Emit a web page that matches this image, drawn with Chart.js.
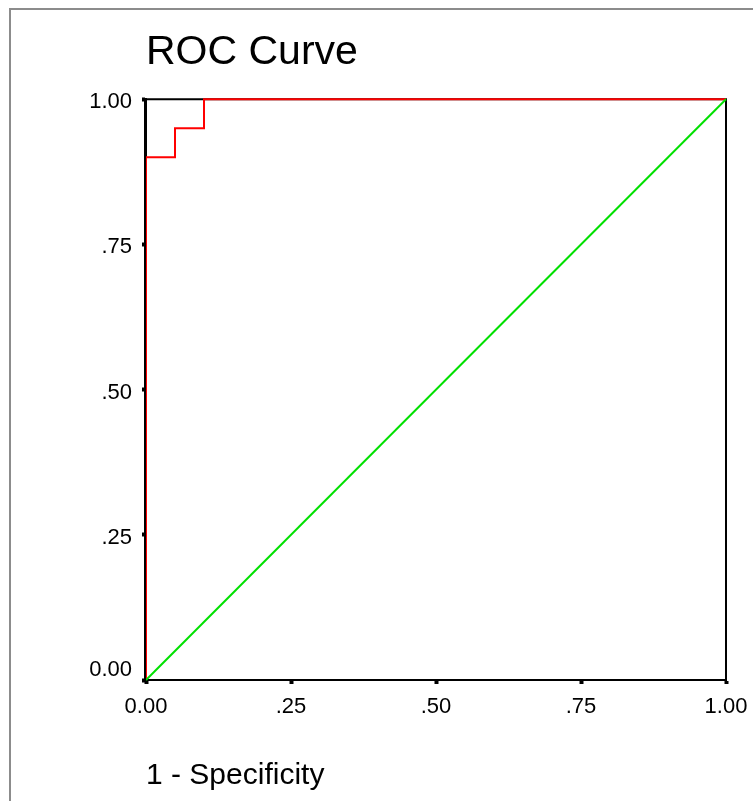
<!DOCTYPE html>
<html>
<head>
<meta charset="utf-8">
<script src="https://cdn.jsdelivr.net/npm/chart.js@4/dist/chart.umd.min.js"></script>
<style>
    body { margin: 0; background: #fff; }
    #wrap { position: relative; width: 753px; height: 801px; overflow: hidden; }
    #frame { position: absolute; left: 9px; top: 8px; width: 900px; height: 900px; border: 2px solid #8c8c8c; }
    #chart { position: absolute; left: 0; top: 0; }
</style>
</head>
<body>
<div id="wrap">
    <div id="frame"></div>
    <canvas id="chart" width="753" height="801"></canvas>
</div>
<script>
// ROC curve points (1 - specificity, sensitivity)
const rocX = [0, 0, 0.05, 0.05, 0.10, 0.10, 1];
const rocY = [0, 0.90, 0.90, 0.95, 0.95, 1, 1];

// Reference diagonal
const refX = [0, 1];
const refY = [0, 1];

// Tick labels as printed on the axes
const tickValues = [0, 0.25, 0.5, 0.75, 1];
const tickLabels = ['0.00', '.25', '.50', '.75', '1.00'];

const FONT = '"Liberation Sans", Arial, sans-serif';
const TICK_FONT = { family: FONT, size: 22 };

function toPoints(xs, ys) {
    return xs.map((x, i) => ({ x: x, y: ys[i] }));
}

function tickLabel(value) {
    const i = tickValues.findIndex(v => Math.abs(v - value) < 1e-6);
    return i >= 0 ? tickLabels[i] : '';
}

// Top/right sides of the plot box, the left axis over the curve,
// and the y "0.00" label which sits a little above its tick
const boxPlugin = {
    id: 'boxPlugin',
    beforeDatasetsDraw(chart) {
        const { ctx, chartArea: a } = chart;
        ctx.save();
        ctx.strokeStyle = '#000';
        ctx.lineWidth = 2;
        ctx.beginPath();
        ctx.moveTo(a.left, a.top);
        ctx.lineTo(a.right, a.top);
        ctx.lineTo(a.right, a.bottom);
        ctx.stroke();
        ctx.restore();
    },
    afterDatasetsDraw(chart) {
        const { ctx, chartArea: a, scales } = chart;
        ctx.save();
        ctx.strokeStyle = '#000';
        ctx.lineWidth = 2;
        ctx.beginPath();
        ctx.moveTo(a.left - 1, a.top);
        ctx.lineTo(a.left - 1, a.bottom);
        ctx.stroke();

        const y0 = scales.y.getPixelForValue(tickValues[0]);
        ctx.fillStyle = '#000';
        ctx.font = TICK_FONT.size + 'px ' + FONT;
        ctx.textAlign = 'right';
        ctx.textBaseline = 'middle';
        ctx.fillText(tickLabels[0], a.left - 14, y0 - 10);
        ctx.restore();
    }
};

new Chart(document.getElementById('chart'), {
    type: 'scatter',
    data: {
        datasets: [
            {
                label: 'Reference',
                data: toPoints(refX, refY),
                showLine: true,
                borderColor: '#00e000',
                borderWidth: 2,
                pointRadius: 0,
                clip: 4
            },
            {
                label: 'ROC',
                data: toPoints(rocX, rocY),
                showLine: true,
                borderColor: '#ff0000',
                borderWidth: 2,
                pointRadius: 0,
                clip: 4
            }
        ]
    },
    options: {
        responsive: false,
        animation: false,
        devicePixelRatio: 1,
        layout: { padding: { left: 0, right: 27, top: 0, bottom: 0 } },
        plugins: {
            legend: { display: false },
            tooltip: { enabled: false },
            title: {
                display: true,
                text: 'ROC Curve',
                align: 'start',
                fullSize: false,
                color: '#000',
                font: { family: FONT, size: 41, weight: 'normal', lineHeight: 1.2 },
                padding: { top: 28, bottom: 22 }
            }
        },
        scales: {
            x: {
                type: 'linear',
                min: 0,
                max: 1,
                afterFit(scale) {
                    scale.height = 121;
                    // let the end labels hang past the plot box
                    scale.paddingLeft = 0;
                    scale.paddingRight = 0;
                },
                border: { display: true, color: '#000', width: 2 },
                grid: { drawOnChartArea: false, drawTicks: true, tickLength: 4, tickWidth: 4, color: '#000' },
                ticks: {
                    stepSize: 0.25,
                    padding: 10,
                    color: '#000',
                    font: TICK_FONT,
                    callback: v => tickLabel(v)
                },
                title: {
                    display: true,
                    text: '1 - Specificity',
                    align: 'start',
                    color: '#000',
                    font: { family: FONT, size: 30 },
                    padding: { top: 0, bottom: 7 }
                }
            },
            y: {
                type: 'linear',
                min: 0,
                max: 1,
                afterFit(scale) {
                    scale.width = 146;
                    scale.paddingTop = 0;
                    scale.paddingBottom = 0;
                },
                border: { display: true, color: '#000', width: 2 },
                grid: { drawOnChartArea: false, drawTicks: true, tickLength: 4, tickWidth: 4, color: '#000' },
                ticks: {
                    stepSize: 0.25,
                    padding: 10,
                    labelOffset: 3,
                    color: '#000',
                    font: TICK_FONT,
                    // 0.00 is drawn by boxPlugin, raised off the x axis
                    callback: v => (Math.abs(v - tickValues[0]) < 1e-6 ? '' : tickLabel(v))
                }
            }
        }
    },
    plugins: [boxPlugin]
});
</script>
</body>
</html>
